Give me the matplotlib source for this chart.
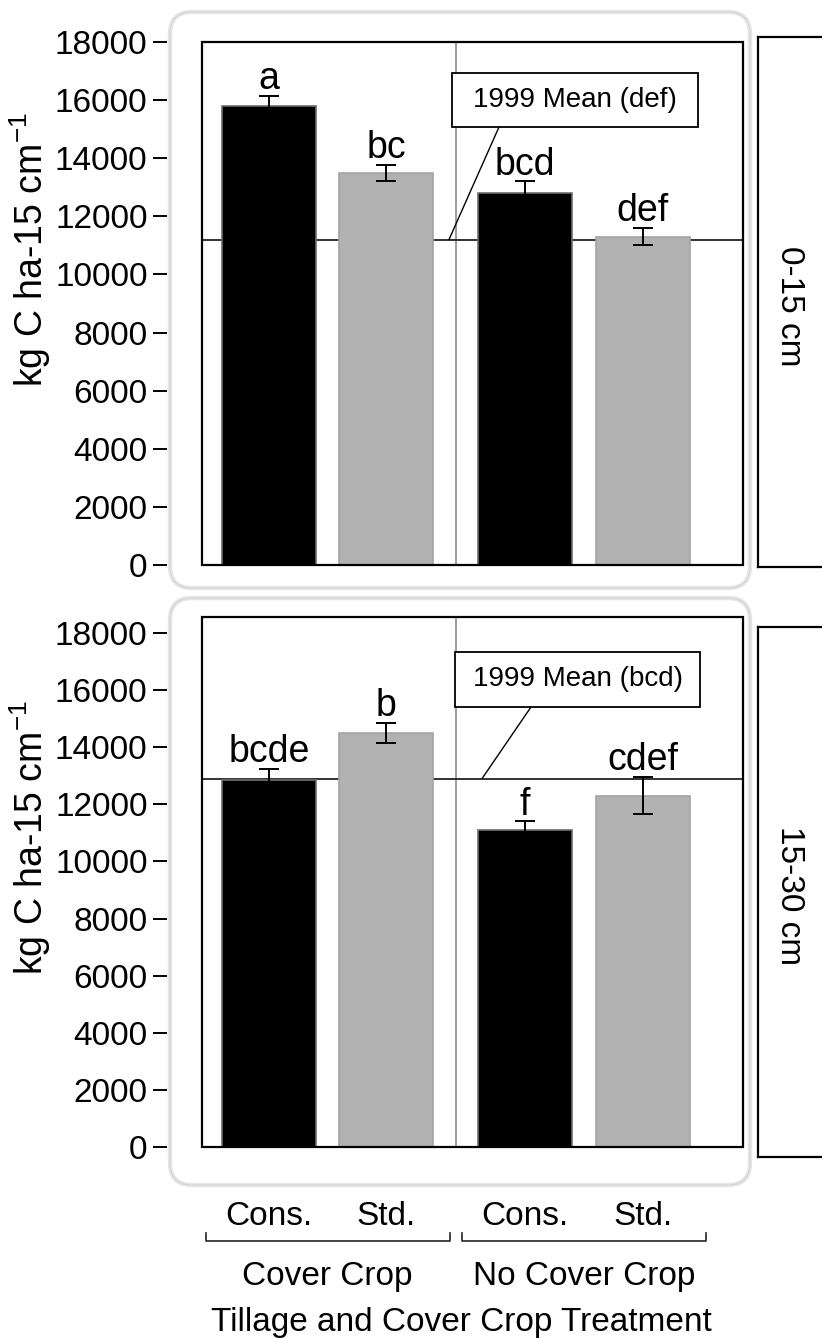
import matplotlib
matplotlib.use("Agg")
import matplotlib.pyplot as plt
import matplotlib.transforms as mtransforms
from matplotlib.patches import Rectangle, FancyBboxPatch, ConnectionPatch
import numpy as np

plt.rcParams["font.family"] = ["Liberation Sans", "DejaVu Sans"]
plt.rcParams["mathtext.default"] = "regular"

# ---- data -------------------------------------------------------------
tillage = ["Cons.", "Std.", "Cons.", "Std."]
cover_groups = ["Cover Crop", "No Cover Crop"]
depths = ["0-15 cm", "15-30 cm"]

carbon_0_15 = [15800, 13500, 12800, 11300]
err_0_15 = [350, 280, 400, 290]
letters_0_15 = ["a", "bc", "bcd", "def"]
mean1999_0_15 = 11200
mean_label_0_15 = "1999 Mean (def)"

carbon_15_30 = [12850, 14500, 11100, 12300]
err_15_30 = [400, 340, 300, 650]
letters_15_30 = ["bcde", "b", "f", "cdef"]
mean1999_15_30 = 12900
mean_label_15_30 = "1999 Mean (bcd)"

y_ticks = [0, 2000, 4000, 6000, 8000, 10000, 12000, 14000, 16000, 18000]
y_label = "kg C ha-15 cm$^{-1}$"
x_title = "Tillage and Cover Crop Treatment"

# ---- layout helpers (pixel based) -------------------------------------
W, H = 822, 1338
fig = plt.figure(figsize=(W / 100, H / 100), dpi=100)


def rect(l, t, r, b):
    return [l / W, 1 - b / H, (r - l) / W, (b - t) / H]


def fy(py):
    return 1 - py / H


FS = 24
bar_colors = ["black", "#b2b2b2", "black", "#b2b2b2"]
bar_edges = ["#6e6e6e", "#a3a3a3", "#6e6e6e", "#a3a3a3"]
xpos = np.arange(4) + np.array([0, 0, 0.18, 0.18])
group_centers = [(xpos[0] + xpos[1]) / 2, (xpos[2] + xpos[3]) / 2]

# rounded backing panels
for (x0, y0, w, h) in [(1.70, 7.50, 5.80, 5.76), (1.70, 1.53, 5.80, 5.87)]:
    fig.patches.append(FancyBboxPatch((x0, y0), w, h,
                                      boxstyle="round,pad=0,rounding_size=0.22",
                                      transform=fig.dpi_scale_trans,
                                      facecolor="white", edgecolor="#e6e6e6",
                                      lw=3.2, zorder=-10))
    fig.patches.append(FancyBboxPatch((x0, y0), w, h,
                                      boxstyle="round,pad=0,rounding_size=0.22",
                                      transform=fig.dpi_scale_trans,
                                      facecolor="none", edgecolor="#d6d6d6",
                                      lw=0.9, zorder=-9))


def panel(ax_rect, top_ylim, values, errs, letters, mean, mean_label,
          box_px, leader_start, leader_x, strip_rect, depth, label_cy):
    ax = fig.add_axes(rect(*ax_rect))
    ax.set_facecolor("none")
    ax.set_xlim(-0.57, 4.034)
    ax.set_ylim(0, top_ylim)
    for s in ax.spines.values():
        s.set_visible(False)
    ax.spines["left"].set_position(("outward", 25.2))
    ax.set_xticks([])
    ax.set_yticks(y_ticks)
    ax.tick_params(axis="y", direction="out", length=10, width=1.4,
                   pad=4, labelsize=FS)
    ax.add_patch(Rectangle((0, 0), 1, 1, transform=ax.transAxes, fill=False,
                           ec="black", lw=1.6, zorder=6, clip_on=False))

    ax.axvline((xpos[1] + xpos[2]) / 2, color="#8c8c8c", lw=1.2, zorder=1)
    ax.axhline(mean, color="#222222", lw=1.3, zorder=2)
    ax.bar(xpos, values, width=0.8, color=bar_colors, edgecolor=bar_edges,
           lw=1.2, zorder=3)
    ax.errorbar(xpos, values, yerr=errs, fmt="none", ecolor="black",
                elinewidth=1.4, capsize=7, capthick=1.4, zorder=4)
    for xi, v, e, lab in zip(xpos, values, errs, letters):
        ax.annotate(lab, (xi, v + e), xytext=(0, 5), textcoords="offset points",
                    ha="center", va="baseline", fontsize=27, zorder=5)

    # 1999 mean call-out
    l, t, r, b = box_px
    al, ar = ax_rect[0], ax_rect[2]
    at, ab = ax_rect[1], ax_rect[3]
    fx = lambda px: (px - al) / (ar - al)
    fyy = lambda py: (ab - py) / (ab - at)
    ax.add_patch(Rectangle((fx(l), fyy(b)), fx(r) - fx(l), fyy(t) - fyy(b),
                           transform=ax.transAxes, facecolor="white",
                           ec="black", lw=1.3, zorder=7))
    ax.text((fx(l) + fx(r)) / 2, (fyy(t) + fyy(b)) / 2, mean_label,
            transform=ax.transAxes, ha="center", va="center", fontsize=20,
            zorder=8)
    ax.add_artist(ConnectionPatch(xyA=(fx(leader_start), fyy(b)),
                                  coordsA=ax.transAxes,
                                  xyB=(leader_x, mean), coordsB=ax.transData,
                                  color="black", lw=1.0, zorder=7))

    # depth strip on the right
    sax = fig.add_axes(rect(*strip_rect))
    sax.set_xticks([])
    sax.set_yticks([])
    for s in sax.spines.values():
        s.set_linewidth(1.6)
    fig.text(789 / W, fy((strip_rect[1] + strip_rect[3]) / 2 + 4), depth,
             rotation=-90, ha="center", va="center", fontsize=FS)

    fig.text(30 / W, fy(label_cy), y_label, rotation=90, ha="center",
             va="center", fontsize=27)
    return ax


ax1 = panel((202, 42, 743, 565), 18000, carbon_0_15, err_0_15, letters_0_15,
            mean1999_0_15, mean_label_0_15, (452, 73, 698, 127), 499, 1.532,
            (758, 37, 900, 567), depths[0], 250)
ax2 = panel((202, 617, 743, 1147), 18560, carbon_15_30, err_15_30,
            letters_15_30, mean1999_15_30, mean_label_15_30,
            (455, 652, 700, 707), 531, 1.813,
            (758, 627, 900, 1157), depths[1], 838)

# category labels under the lower panel
blend = mtransforms.blended_transform_factory(ax2.transData, fig.transFigure)
for xi, lab in zip(xpos, tillage):
    ax2.text(xi, fy(1225), lab, transform=blend, ha="center", va="baseline",
             fontsize=FS, clip_on=False)
for gc, lab in zip(group_centers, cover_groups):
    ax2.plot([gc - 1.04, gc - 1.04, gc + 1.04, gc + 1.04],
             [fy(1233), fy(1241), fy(1241), fy(1233)], transform=blend,
             color="#222222", lw=1.2, clip_on=False)
    ax2.text(gc, fy(1285), lab, transform=blend, ha="center", va="baseline",
             fontsize=FS, clip_on=False)
fig.text(461 / W, fy(1331), x_title, ha="center", va="baseline", fontsize=FS)

fig.savefig("out.png", dpi=100)
